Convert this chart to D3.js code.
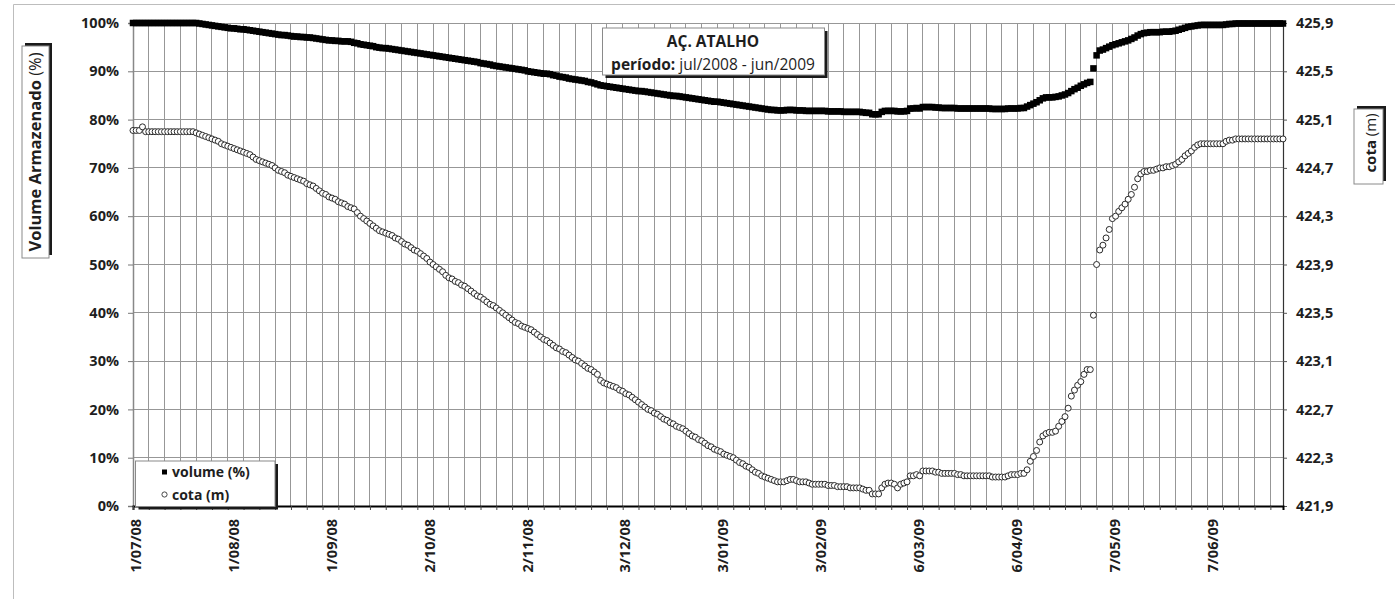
<!DOCTYPE html>
<html><head><meta charset="utf-8">
<script src="https://cdn.jsdelivr.net/npm/d3@7"></script>
<style>
html,body{margin:0;padding:0;background:#fff;}
svg{display:block;font-family:"Open Sans",sans-serif;}
</style></head><body>
<svg id="chart" width="1395" height="599"></svg>
<script>
// ---------- DATA ----------
const startDate = "2008-07-01";   // first daily reading
const volume = [ // volume armazenado (%), one value per day
100,100,100,100,100,100,100,100,100,100,
100,100,100,100,100,100,100,100,100,100,
100.0,99.9,99.8,99.7,99.6,99.5,99.4,99.3,99.2,99.1,
99.0,98.9,98.9,98.8,98.7,98.7,98.6,98.5,98.4,98.3,
98.2,98.1,98.0,97.9,97.8,97.7,97.6,97.5,97.5,97.4,
97.3,97.2,97.2,97.1,97.1,97.0,97.0,96.9,96.8,96.7,
96.6,96.5,96.4,96.4,96.3,96.3,96.2,96.2,96.2,96.1,
95.9,95.8,95.6,95.5,95.4,95.3,95.2,95.0,94.9,94.8,
94.8,94.7,94.6,94.5,94.4,94.3,94.2,94.1,94.0,93.9,
93.8,93.7,93.6,93.5,93.4,93.3,93.2,93.1,93.0,92.9,
92.8,92.7,92.6,92.5,92.4,92.3,92.2,92.1,92.0,91.9,
91.7,91.6,91.5,91.4,91.2,91.1,91.0,90.9,90.8,90.7,
90.6,90.5,90.4,90.3,90.2,90.0,89.9,89.8,89.7,89.6,
89.5,89.5,89.4,89.2,89.1,88.9,88.8,88.7,88.5,88.4,
88.3,88.2,88.1,88.0,87.8,87.7,87.5,87.3,87.1,87.0,
86.9,86.8,86.7,86.6,86.5,86.4,86.3,86.2,86.1,86.0,
85.9,85.9,85.8,85.7,85.6,85.5,85.4,85.3,85.2,85.1,
85.0,84.9,84.9,84.8,84.7,84.6,84.5,84.4,84.3,84.2,
84.1,84.0,83.9,83.8,83.7,83.7,83.6,83.5,83.4,83.3,
83.2,83.1,83.0,82.9,82.8,82.7,82.6,82.5,82.4,82.3,
82.2,82.1,82.0,82.0,81.9,81.9,81.9,82.0,82.0,82.0,
81.9,81.9,81.9,81.8,81.8,81.8,81.8,81.8,81.8,81.8,
81.7,81.7,81.7,81.7,81.7,81.6,81.6,81.6,81.6,81.6,
81.6,81.5,81.4,81.4,81.1,81.1,81.1,81.6,81.8,81.8,
81.8,81.8,81.7,81.7,81.7,81.8,82.3,82.3,82.4,82.3,
82.6,82.6,82.6,82.6,82.5,82.5,82.4,82.4,82.4,82.4,
82.4,82.3,82.3,82.3,82.3,82.3,82.3,82.3,82.3,82.3,
82.3,82.3,82.2,82.2,82.2,82.2,82.2,82.3,82.3,82.3,
82.3,82.4,82.4,82.7,83.0,83.3,83.6,84.0,84.4,84.6,
84.6,84.6,84.7,84.8,85.0,85.2,85.5,85.9,86.3,86.6,
87.0,87.3,87.6,87.8,90.6,93.3,94.3,94.5,94.8,95.1,
95.4,95.6,95.8,96.0,96.2,96.4,96.7,97.0,97.4,97.7,
97.9,98.0,98.1,98.1,98.1,98.1,98.2,98.2,98.2,98.3,
98.4,98.6,98.8,99.0,99.2,99.3,99.4,99.5,99.6,99.6,
99.6,99.6,99.6,99.6,99.6,99.6,99.7,99.8,99.8,99.9,
99.9,99.9,99.9,99.9,99.9,99.9,99.9,99.9,99.9,99.9,
99.9,99.9,99.9,99.9,99.9
];
const cota = [ // cota (m), one value per day
425.01,425.01,425.01,425.04,425.00,425.00,425.00,425.00,425.00,425.00,
425.00,425.00,425.00,425.00,425.00,425.00,425.00,425.00,425.00,425.00,
424.99,424.98,424.97,424.96,424.95,424.94,424.93,424.92,424.90,424.89,
424.88,424.87,424.86,424.85,424.84,424.83,424.82,424.81,424.79,424.77,
424.76,424.75,424.74,424.73,424.72,424.70,424.68,424.67,424.66,424.64,
424.63,424.62,424.61,424.60,424.59,424.57,424.56,424.55,424.53,424.51,
424.49,424.48,424.46,424.45,424.44,424.42,424.41,424.40,424.38,424.37,
424.36,424.33,424.30,424.28,424.26,424.24,424.22,424.20,424.18,424.17,
424.16,424.15,424.14,424.12,424.11,424.09,424.07,424.06,424.04,424.02,
424.01,423.99,423.97,423.95,423.92,423.90,423.88,423.86,423.84,423.81,
423.79,423.78,423.76,423.75,423.73,423.72,423.70,423.68,423.66,423.64,
423.63,423.61,423.59,423.57,423.56,423.54,423.52,423.50,423.48,423.46,
423.44,423.42,423.41,423.39,423.38,423.37,423.36,423.34,423.32,423.30,
423.28,423.27,423.25,423.23,423.21,423.20,423.18,423.17,423.15,423.13,
423.11,423.10,423.08,423.06,423.04,423.03,423.01,422.99,422.94,422.92,
422.91,422.90,422.89,422.88,422.86,422.85,422.83,422.82,422.80,422.78,
422.76,422.74,422.72,422.70,422.69,422.67,422.66,422.64,422.62,422.61,
422.59,422.58,422.56,422.55,422.54,422.52,422.50,422.48,422.47,422.45,
422.44,422.42,422.40,422.39,422.37,422.36,422.35,422.33,422.32,422.31,
422.30,422.28,422.26,422.25,422.23,422.22,422.20,422.18,422.17,422.15,
422.14,422.13,422.12,422.11,422.10,422.10,422.10,422.11,422.12,422.12,
422.11,422.10,422.10,422.10,422.09,422.08,422.08,422.08,422.08,422.08,
422.07,422.07,422.07,422.06,422.06,422.06,422.06,422.05,422.05,422.05,
422.05,422.04,422.03,422.03,422.00,422.00,422.00,422.05,422.08,422.09,
422.09,422.08,422.05,422.08,422.09,422.10,422.15,422.15,422.16,422.15,
422.19,422.19,422.19,422.19,422.18,422.18,422.17,422.17,422.17,422.17,
422.17,422.16,422.16,422.15,422.15,422.15,422.15,422.15,422.15,422.15,
422.15,422.15,422.14,422.14,422.14,422.14,422.14,422.15,422.16,422.16,
422.16,422.17,422.17,422.20,422.27,422.31,422.36,422.43,422.48,422.50,
422.51,422.51,422.52,422.56,422.60,422.64,422.71,422.81,422.86,422.90,
422.93,422.99,423.03,423.03,423.48,423.90,424.02,424.06,424.12,424.19,
424.28,424.30,424.34,424.37,424.40,424.44,424.48,424.54,424.61,424.65,
424.67,424.67,424.68,424.68,424.69,424.70,424.70,424.71,424.71,424.72,
424.73,424.75,424.77,424.80,424.82,424.84,424.87,424.89,424.90,424.90,
424.90,424.90,424.90,424.90,424.90,424.90,424.92,424.93,424.93,424.94,
424.94,424.94,424.94,424.94,424.94,424.94,424.94,424.94,424.94,424.94,
424.94,424.94,424.94,424.94,424.94
];
const volumeTicks = [0,10,20,30,40,50,60,70,80,90,100];
const volumeMinorTicks = [0,2,4,6,8,10,12,14,16,18,20,22,24,26,28,30,32,34,36,38,40,42,44,46,48,50,52,54,56,58,60,62,64,66,68,70,72,74,76,78,80,82,84,86,88,90,92,94,96,98,100];
const cotaTicks = [421.9,422.3,422.7,423.1,423.5,423.9,424.3,424.7,425.1,425.5,425.9];
const xLabelDates = ["2008-07-01","2008-08-01","2008-09-01","2008-10-02","2008-11-02","2008-12-03","2009-01-03","2009-02-03","2009-03-06","2009-04-06","2009-05-07","2009-06-07"];
const gridStepDays = 5;
const titleText = "AÇ. ATALHO";
const periodLabel = "período:";
const periodText = " jul/2008 - jun/2009";
const legendLabels = ["volume (%)", "cota (m)"];

// ---------- CHART ----------
const parse = d3.timeParse("%Y-%m-%d");
const start = parse(startDate);
const dates = volume.map((_, i) => d3.timeDay.offset(start, i));
const end = dates[dates.length - 1];

const L = 133, R = 1283, T = 23, B = 506;
const TXT = "#1e1e1e";
const svg = d3.select("#chart");

const x = d3.scaleTime().domain([start, end]).range([L, R]);
const yVol = d3.scaleLinear().domain([0, 100]).range([B, T]);
const yCota = d3.scaleLinear().domain([421.9, 425.9]).range([B, T]);

// chart-area border
svg.append("path").attr("d", `M13.5,600V4.5H1396`).attr("fill", "none").attr("stroke", "#bdbdbd").attr("stroke-width", 1);

const gridDates = d3.range(0, dates.length, gridStepDays).map(i => dates[i]);

// gridlines
const grid = svg.append("g").attr("shape-rendering", "crispEdges");
grid.selectAll("line.v").data(gridDates.slice(1)).join("line")
  .attr("x1", d => x(d)).attr("x2", d => x(d)).attr("y1", T).attr("y2", B)
  .attr("stroke", "#979797").attr("stroke-width", 1);
grid.selectAll("line.h").data(volumeTicks.slice(1)).join("line")
  .attr("x1", L).attr("x2", R).attr("y1", d => yVol(d)).attr("y2", d => yVol(d))
  .attr("stroke", "#979797").attr("stroke-width", 1);

// left axis
const gl = svg.append("g").attr("transform", `translate(${L},0)`);
gl.call(d3.axisLeft(yVol).tickValues(volumeMinorTicks).tickSize(3).tickFormat(""));
gl.call(d3.axisLeft(yVol).tickValues(volumeTicks).tickSize(5).tickPadding(9).tickFormat(d => d + "%"));
gl.selectAll("path.domain").attr("stroke", "#888").attr("stroke-width", 1.5);
gl.selectAll(".tick line").attr("stroke", "#777");

// right axis
const gr = svg.append("g").attr("transform", `translate(${R},0)`);
gr.call(d3.axisRight(yVol).tickValues(volumeMinorTicks).tickSize(4).tickFormat(""));
gr.call(d3.axisRight(yCota).tickValues(cotaTicks).tickSize(4).tickPadding(9)
  .tickFormat(d => d3.format(".1f")(d).replace(".", ",")));
gr.selectAll("path.domain").attr("stroke", "#333").attr("stroke-width", 1.2);
gr.selectAll(".tick line").attr("stroke", "#555");

// bottom axis
const gb = svg.append("g").attr("transform", `translate(0,${B})`);
gb.call(d3.axisBottom(x).tickValues(gridDates).tickSize(4).tickFormat(""));
gb.selectAll(".tick line").attr("stroke", "#444");
gb.select("path.domain").attr("stroke", "#000").attr("stroke-width", 2);
const gbl = svg.append("g").attr("transform", `translate(0,${B})`);
gbl.call(d3.axisBottom(x).tickValues(xLabelDates.map(parse)).tickSize(0)
  .tickFormat(d3.timeFormat("%-d/%m/%y")));
gbl.select("path.domain").remove();
gbl.selectAll("text").attr("transform", "rotate(-90)").attr("x", -13).attr("y", 0)
  .attr("dy", "0.5em").attr("text-anchor", "end");

svg.selectAll(".tick text").attr("font-family", '"Open Sans",sans-serif')
  .attr("font-size", 14.5).attr("font-weight", "bold").attr("fill", TXT);

// series: volume squares
svg.append("g").selectAll("rect").data(volume).join("rect")
  .attr("x", (d, i) => x(dates[i]) - 3.25).attr("y", d => yVol(d) - 3.25)
  .attr("width", 6.5).attr("height", 6.5).attr("fill", "#000");

// series: cota circles
svg.append("g").selectAll("circle").data(cota).join("circle")
  .attr("cx", (d, i) => x(dates[i])).attr("cy", d => yCota(d)).attr("r", 3)
  .attr("fill", "#fff").attr("stroke", "#2a2a2a").attr("stroke-width", 1);

// helper: box with drop shadow
function shadowBox(x0, y0, w, h, dx, dy) {
  svg.append("rect").attr("x", x0 + dx).attr("y", y0 + dy).attr("width", w).attr("height", h).attr("fill", "#1a1a1a");
  svg.append("rect").attr("x", x0).attr("y", y0).attr("width", w).attr("height", h)
    .attr("fill", "#fff").attr("stroke", "#8a8a8a").attr("stroke-width", 1);
}

// title box
shadowBox(602.5, 28, 222, 47, 3, 3);
svg.append("text").attr("x", 713).attr("y", 47).attr("text-anchor", "middle")
  .attr("font-size", 15.5).attr("font-weight", "bold").attr("fill", TXT).text(titleText);
const t2 = svg.append("text").attr("x", 713).attr("y", 69.5).attr("text-anchor", "middle")
  .attr("font-size", 15.5).attr("fill", TXT);
t2.append("tspan").attr("font-weight", "bold").text(periodLabel);
t2.append("tspan").text(periodText);

// left axis title
shadowBox(22, 46, 27, 212, 3, -3);
const lt = svg.append("text").attr("transform", "translate(41,152) rotate(-90)")
  .attr("text-anchor", "middle").attr("font-size", 16.5).attr("fill", TXT);
lt.append("tspan").attr("font-weight", "bold").text("Volume Armazenado");
lt.append("tspan").text(" (%)");

// right axis title
shadowBox(1354, 109, 29, 75, 3, -3);
const rt = svg.append("text").attr("transform", "translate(1376,143) rotate(-90)")
  .attr("text-anchor", "middle").attr("font-size", 15).attr("fill", TXT);
rt.append("tspan").attr("font-weight", "bold").text("cota");
rt.append("tspan").text(" (m)");

// legend
shadowBox(135.5, 461, 139.5, 45.5, 3, 3);
svg.append("rect").attr("x", 162).attr("y", 469.5).attr("width", 5).attr("height", 5).attr("fill", "#000");
svg.append("text").attr("x", 172).attr("y", 477).attr("font-size", 14).attr("font-weight", "bold").attr("fill", TXT).text(legendLabels[0]);
svg.append("circle").attr("cx", 164.5).attr("cy", 494.5).attr("r", 2.6).attr("fill", "#fff").attr("stroke", "#333").attr("stroke-width", 0.9);
svg.append("text").attr("x", 172).attr("y", 500).attr("font-size", 14).attr("font-weight", "bold").attr("fill", TXT).text(legendLabels[1]);
</script>
</body></html>
